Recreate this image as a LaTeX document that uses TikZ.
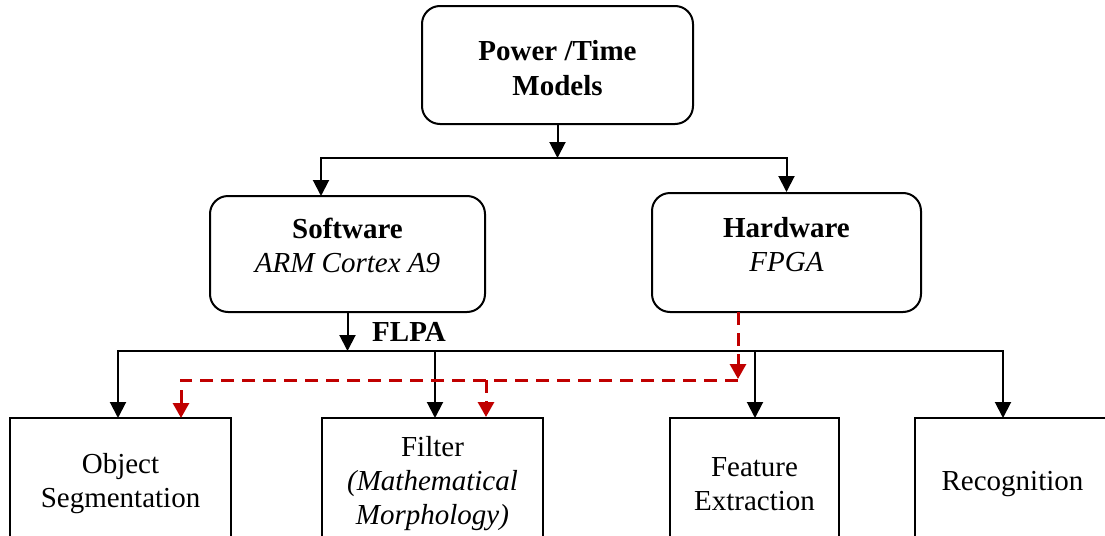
\documentclass[tikz,border=0pt]{standalone}
\usepackage{fontspec}
\setmainfont{Liberation Serif}
\usetikzlibrary{arrows.meta}
\definecolor{dred}{RGB}{192,0,0}
\begin{document}
\begin{tikzpicture}[x=0.5pt,y=-0.5pt,
  every node/.style={font=\fontsize{14.5pt}{17pt}\selectfont, align=center, inner sep=0pt},
  bftext/.style={font=\fontsize{14.5pt}{17.5pt}\selectfont\bfseries},
  rbox/.style={draw, line width=1pt, rounded corners=9pt},
  sbox/.style={draw, line width=1pt, minimum height=66pt},
  arr/.style={line width=1pt, -{Triangle[length=8pt,width=8pt]}},
  rarr/.style={draw=dred, line width=1.5pt, dash pattern=on 6.5pt off 4pt, -{Triangle[length=7.5pt,width=8pt]}},
]
\clip (0,0) rectangle (1105,536);
\useasboundingbox (0,0) rectangle (1105,536);

% boxes
\node[rbox, minimum width=135.5pt, minimum height=59pt,
  label={[name=topt, bftext, yshift=-1.5pt]center:{Power /Time\\Models}}] (top) at (557.5,65) {};
\node[rbox, minimum width=137.5pt, minimum height=58pt,
  label={[name=swt, yshift=4.5pt]center:{\textbf{Software}\\\textit{ARM Cortex A9}}}] (sw) at (347.5,254) {};
\node[rbox, minimum width=134.5pt, minimum height=59.5pt,
  label={[name=hwt, yshift=4pt]center:{\textbf{Hardware}\\\textit{FPGA}}}] (hw) at (786.5,252.5) {};
\node[bftext] (flpa) at (409,332) {FLPA};

\node[sbox, minimum width=110.5pt] (obj) at (120.5,484) {Object\\Segmentation};
\node[sbox, minimum width=110.5pt] (filt) at (432.5,484) {Filter\\\textit{(Mathematical}\\\textit{Morphology)}};
\node[sbox, minimum width=84.5pt] (feat) at (754.5,484) {Feature\\Extraction};
\node[sbox, minimum width=97.5pt] (rec) at (1012.5,484) {Recognition};

% coordinates
\coordinate (j1) at (557.5,158);
\coordinate (swin) at (321,196);
\coordinate (b) at (347.5,351);
\coordinate (objin) at (118,418);
\coordinate (filtin) at (435,418);
\coordinate (featin) at (755,418);
\coordinate (recin) at (1003,418);
\coordinate (rtop) at (738,312);
\coordinate (rtip) at (738,379);
\coordinate (rj) at (738,380);
\coordinate (objr) at (181,418);
\coordinate (fj) at (486,380);

% black connectors
\draw[arr] (top.south) -- (j1);
\draw[arr] (j1) -| (swin);
\draw[arr] (j1) -| (hw.north);
\draw[arr] (sw.south) -- (b);
\draw[arr] (b) -| (objin);
\draw[arr] (b) -| (filtin);
\draw[arr] (b) -| (featin);
\draw[arr] (b) -| (recin);

% red dashed connectors
\draw[rarr] (rtop) -- (rtip);
\draw[rarr] (rj) -| (objr);
\draw[rarr] (fj) -- (fj |- filt.north);
\end{tikzpicture}
\end{document}
